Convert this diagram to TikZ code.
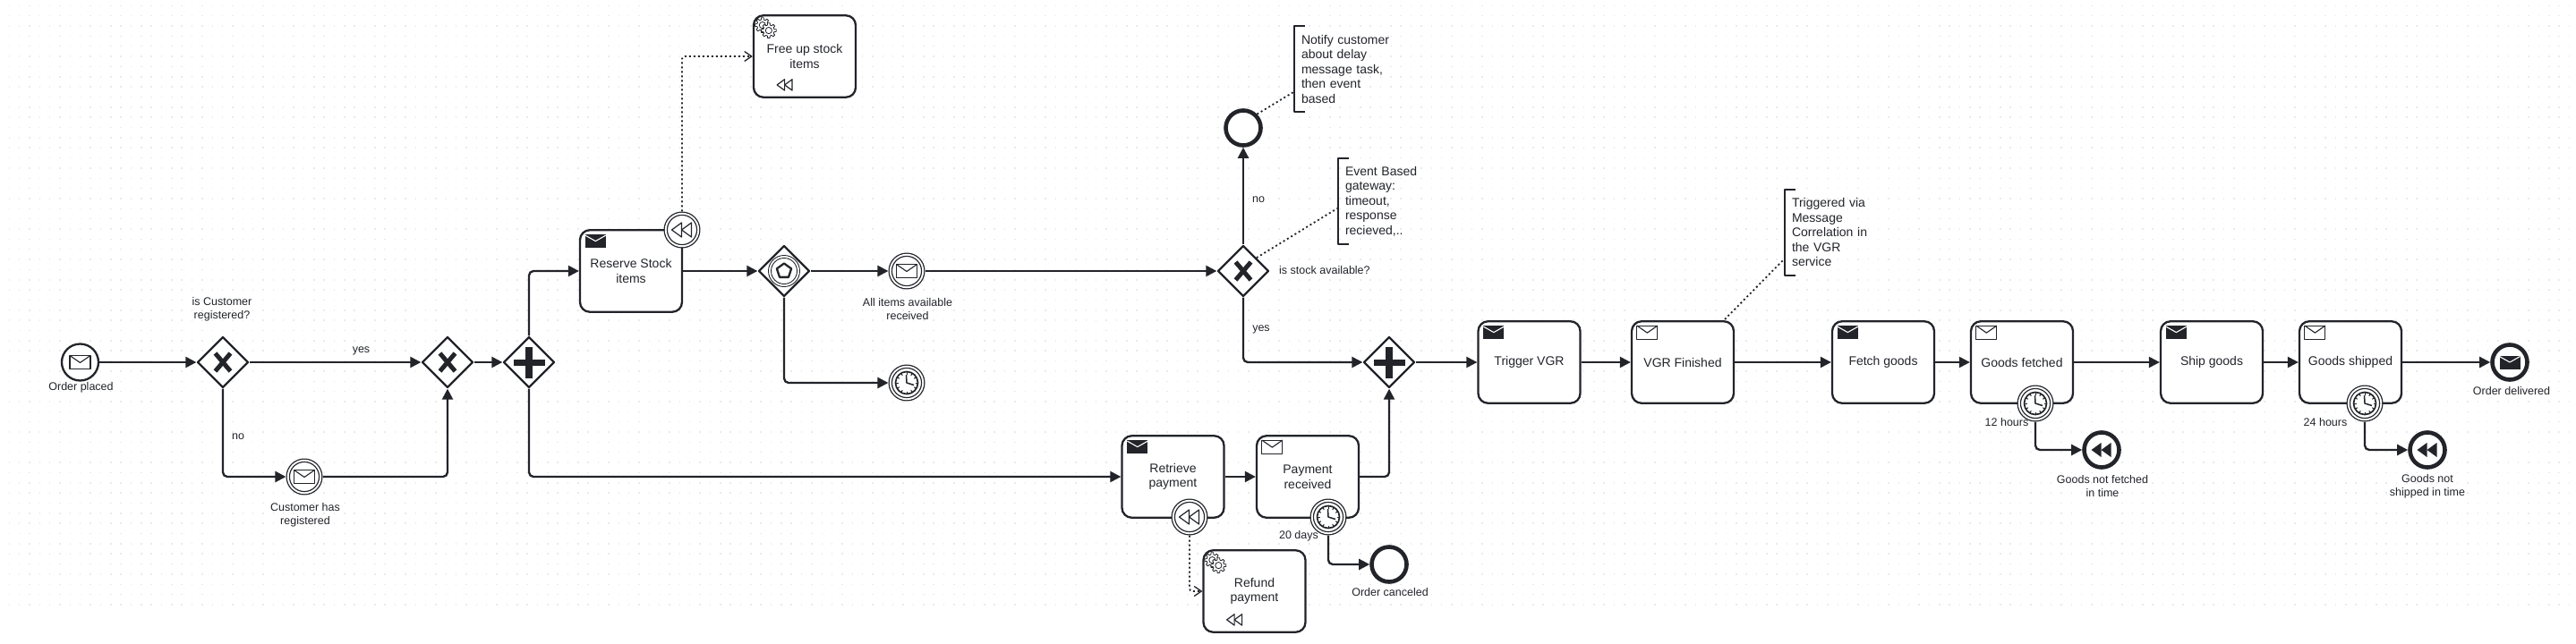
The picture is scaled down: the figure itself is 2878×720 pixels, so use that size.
\documentclass[tikz,border=0pt]{standalone}
\usepackage{fontspec}
\setmainfont{Liberation Sans}
\usepackage{xcolor}
\usepackage{tikz}
\usetikzlibrary{arrows.meta,calc,shapes.geometric}
\definecolor{bpmnline}{RGB}{34,36,42}
\definecolor{griddot}{RGB}{234,234,236}

\tikzset{
    taskbox/.style={draw=bpmnline,fill=white,rectangle,rounded corners=11pt,line width=2.3pt,minimum width=114pt,minimum height=91.5pt,inner sep=0pt,align=center,text=bpmnline,font=\fontsize{14}{16.5}\selectfont},
    gatebox/.style={draw=bpmnline,fill=white,diamond,aspect=1,line width=2.3pt,minimum width=57pt,minimum height=57pt,inner sep=0pt},
    startevent/.style={draw=bpmnline,fill=white,circle,line width=2.3pt,minimum size=41pt,inner sep=0pt},
    catchevent/.style={draw=bpmnline,fill=white,circle,line width=1.3pt,double,double distance=1.9pt,minimum size=36.5pt,outer sep=2.3pt,inner sep=0pt},
    endevent/.style={draw=bpmnline,fill=white,circle,line width=4.6pt,minimum size=39pt,inner sep=0pt},
    eventtext/.style={align=center,inner sep=0pt,text=bpmnline,font=\fontsize{12.5}{15.3}\selectfont},
    notetext/.style={anchor=west,rectangle,align=left,text width=100pt,inner xsep=8pt,inner ysep=0pt,minimum height=96pt,outer sep=0pt,text=bpmnline,font=\fontsize{14}{16.5}\selectfont},
    flowline/.style={draw=bpmnline,line width=2.3pt,rounded corners=5pt,-{Triangle[length=12pt,width=12pt]}},
    assocline/.style={draw=bpmnline,line width=1.8pt,dash pattern=on 2pt off 3pt},
    compline/.style={assocline,rounded corners=3pt,-{Straight Barb[length=8pt,width=11pt,line width=1.3pt]}},
    bracketline/.style={draw=bpmnline,line width=2pt},
    % icons
    mailopen/.pic={
        \draw[bpmnline,fill=white,line width=1.1pt] (-11.5,-7.5) rectangle (11.5,7.5);
        \draw[bpmnline,line width=1.1pt] (-11.5,-7.5) -- (0,0.5) -- (11.5,-7.5);
    },
    mailfull/.pic={
        \fill[bpmnline] (-11.5,-7.5) rectangle (11.5,7.5);
        \draw[white,line width=1.1pt] (-11.5,-6.5) -- (0,0) -- (11.5,-6.5);
    },
    clockicon/.pic={
        \draw[bpmnline,fill=white,line width=1.7pt] (0,0) circle (12.5);
        \foreach \a in {0,30,...,330} {
            \draw[bpmnline,line width=1pt] (\a:9.5) -- (\a:12);
        }
        \draw[bpmnline,line width=1.5pt] (-0.5,-9) -- (0,0) -- (8,2.5);
    },
    rewindopen/.pic={
        \draw[bpmnline,fill=white,line width=1.2pt] (-11.5,0) -- (-0.5,-8) -- (-0.5,8) -- cycle;
        \draw[bpmnline,fill=white,line width=1.2pt] (-0.5,0) -- (10.5,-8) -- (10.5,8) -- cycle;
    },
    rewindfull/.pic={
        \fill[bpmnline] (-11.5,0) -- (-0.5,-8) -- (-0.5,8) -- cycle;
        \fill[bpmnline] (-0.5,0) -- (10.5,-8) -- (10.5,8) -- cycle;
    },
    xmark/.pic={
        \draw[bpmnline,line width=5pt] (-8.5,-10) -- (8.5,10);
        \draw[bpmnline,line width=5pt] (8.5,-10) -- (-8.5,10);
    },
    plusmark/.pic={
        \fill[bpmnline] (-3.8,-17.5) rectangle (3.8,17.5);
        \fill[bpmnline] (-17.5,-3.5) rectangle (17.5,3.5);
    },
    pentamark/.pic={
        \draw[bpmnline,line width=0.9pt] (0,0) circle (17.5);
        \draw[bpmnline,line width=0.9pt] (0,0) circle (14.5);
        \draw[bpmnline,line width=2.3pt] (270:8.5) -- (342:8.5) -- (54:8.5) -- (126:8.5) -- (198:8.5) -- cycle;
    },
    cogwheel/.pic={
        \draw[bpmnline,fill=white,line width=0.8pt] (-14:6.2)
            \foreach \a in {0,45,...,315} {
                -- (\a-14:6.2) -- (\a-9:8.4) -- (\a+9:8.4) -- (\a+14:6.2)
            } -- cycle;
        \draw[bpmnline,line width=0.8pt] (0,0) circle (3.6);
    },
}

\begin{document}
\begin{tikzpicture}[x=1pt,y=-1pt,line join=round]
    \useasboundingbox (0,0) rectangle (2878,720);
    % dotted canvas
    \fill[white] (0,0) rectangle (2878,720);
    \foreach \row in {0,...,59} {
        \draw[griddot,line width=1.5pt,dash pattern=on 1.5pt off 9.85pt] (9.5,6.3+\row*11.35) -- (2878,6.3+\row*11.35);
    }

    % events
    \node[startevent] (orderplaced) at (89.5,405) {};
    \node[catchevent] (custregistered) at (340,533) {};
    \node[catchevent] (itemsreceived) at (1013,303) {};
    \node[catchevent] (stocktimer) at (1013,428) {};
    \node[endevent] (notifyend) at (1389,143) {};
    \node[endevent] (ordercanceled) at (1552,631) {};
    \node[endevent] (orderdelivered) at (2804,405) {};
    \node[endevent] (notfetched) at (2348,503) {};
    \node[endevent] (notshipped) at (2712,503) {};

    % gateways
    \node[gatebox] (gwcustomer) at (249,405) {};
    \node[gatebox] (gwmerge) at (500,405) {};
    \node[gatebox] (gwsplit) at (591,405) {};
    \node[gatebox] (gwevent) at (876,303) {};
    \node[gatebox] (gwstock) at (1389,303) {};
    \node[gatebox] (gwjoin) at (1552,405) {};

    % tasks
    \node[taskbox] (reserve) at (705,303) {Reserve Stock\\items};
    \node[taskbox] (freeup) at (899,63) {Free up stock\\items};
    \node[taskbox] (retrieve) at (1310.5,533) {Retrieve\\payment};
    \node[taskbox] (payment) at (1461,533) {Payment\\received};
    \node[taskbox] (refund) at (1401.5,661) {Refund\\payment};
    \foreach \name/\x/\lab in {trigger/1708.5/Trigger VGR,vgrdone/1880/VGR Finished,fetch/2104/Fetch goods,fetched/2259/Goods fetched,ship/2471/Ship goods,shipped/2626/Goods shipped} {
        \node[taskbox] (\name) at (\x,405) {\lab};
    }

    % boundary events
    \node[catchevent] (reservecomp) at (762,257) {};
    \node[catchevent] (retrievecomp) at (1329,578) {};
    \node[catchevent] (paymenttimer) at (1484,578) {};
    \node[catchevent] (fetchedtimer) at (2274,451) {};
    \node[catchevent] (shippedtimer) at (2642,451) {};

    % icons
    \pic at (orderplaced) {mailopen};
    \pic at (custregistered) {mailopen};
    \pic at (itemsreceived) {mailopen};
    \pic at (orderdelivered) {mailfull};
    \pic at (notfetched) {rewindfull};
    \pic at (notshipped) {rewindfull};
    \pic at (reservecomp) {rewindopen};
    \pic at (retrievecomp) {rewindopen};
    \foreach \name in {stocktimer,paymenttimer,fetchedtimer,shippedtimer} {
        \pic at (\name) {clockicon};
    }
    \foreach \name in {gwcustomer,gwmerge,gwstock} {
        \pic at (\name) {xmark};
    }
    \foreach \name in {gwsplit,gwjoin} {
        \pic at (\name) {plusmark};
    }
    \pic at (gwevent) {pentamark};
    \foreach \name in {reserve,retrieve,trigger,fetch,ship} {
        \pic at ($(\name.north west)+(18.5,13.5)$) {mailfull};
    }
    \foreach \name in {payment,vgrdone,fetched,shipped} {
        \pic at ($(\name.north west)+(18.5,13.5)$) {mailopen};
    }
    \foreach \name in {freeup,refund} {
        \pic at ($(\name.north west)+(11,12)$) {cogwheel};
        \pic at ($(\name.north west)+(18,18)$) {cogwheel};
        \pic[scale=0.77] at ($(\name.south)+(-22,-15)$) {rewindopen};
    }

    % event labels
    \node[eventtext] (orderplacedtext) at (90.5,433) {Order placed};
    \node[eventtext] (gwcustomertext) at (248,345.5) {is Customer\\registered?};
    \node[eventtext] (custregisteredtext) at (341,576) {Customer has\\registered};
    \node[eventtext] (yestext) at (403.5,392) {yes};
    \node[eventtext] (notext) at (266,488) {no};
    \node[eventtext] (itemsreceivedtext) at (1014,345.5) {All items available\\received};
    \node[eventtext] (stocknotext) at (1406,223) {no};
    \node[eventtext] (stockyestext) at (1409,368) {yes};
    \node[eventtext,anchor=west] (gwstocktext) at (1429,302) {is stock available?};
    \node[eventtext] (daystext) at (1451,599) {20 days};
    \node[eventtext] (canceledtext) at (1553,662) {Order canceled};
    \node[eventtext] (fetchedhours) at (2242,472) {12 hours};
    \node[eventtext] (shippedhours) at (2598,472) {24 hours};
    \node[eventtext] (notfetchedtext) at (2349,543.5) {Goods not fetched\\in time};
    \node[eventtext] (notshippedtext) at (2712,543.5) {Goods not\\shipped in time};
    \node[eventtext] (deliveredtext) at (2806,437) {Order delivered};

    % annotations
    \node[notetext] (notenotify) at (1446,77) {Notify customer\\about delay\\message task,\\then event\\based};
    \node[notetext] (notegateway) at (1495,225) {Event Based\\gateway:\\timeout,\\response\\recieved,..};
    \node[notetext] (notevgr) at (1994,259.5) {Triggered via\\Message\\Correlation in\\the VGR\\service};
    \foreach \name in {notenotify,notegateway,notevgr} {
        \draw[bracketline] ($(\name.north west)+(12,0)$) -- (\name.north west) -- (\name.south west) -- ($(\name.south west)+(12,0)$);
    }
    \coordinate (notifyfoot) at (1445,103);
    \coordinate (gatewayfoot) at (1494,233);
    \coordinate (vgrfoot) at (1993,290);
    \coordinate (vgrtop) at (1927,357);
    \draw[assocline] (notifyend.north east) -- (notifyfoot);
    \draw[assocline] (gwstock.north east) -- (gatewayfoot);
    \draw[assocline] (vgrtop) -- (vgrfoot);

    % sequence flows
    \draw[flowline] (orderplaced) -- (gwcustomer);
    \draw[flowline] (gwcustomer) -- (gwmerge);
    \draw[flowline] (gwmerge) -- (gwsplit);
    \draw[flowline] (gwcustomer.south) |- (custregistered.west);
    \draw[flowline] (custregistered.east) -| (gwmerge.south);
    \draw[flowline] (gwsplit.north) |- (reserve.west);
    \draw[flowline] (gwsplit.south) |- (retrieve.west);
    \draw[flowline] (reserve.east) -- (gwevent.west);
    \draw[flowline] (gwevent.east) -- (itemsreceived.west);
    \draw[flowline] (gwevent.south) |- (stocktimer.west);
    \draw[flowline] (itemsreceived.east) -- (gwstock.west);
    \draw[flowline] (gwstock.north) -- (notifyend.south);
    \draw[flowline] (gwstock.south) |- (gwjoin.west);
    \draw[flowline] (retrieve.east) -- (payment.west);
    \draw[flowline] (payment.east) -| (gwjoin.south);
    \draw[flowline] (paymenttimer.south) |- (ordercanceled.west);
    \draw[flowline] (gwjoin.east) -- (trigger.west);
    \draw[flowline] (trigger.east) -- (vgrdone.west);
    \draw[flowline] (vgrdone.east) -- (fetch.west);
    \draw[flowline] (fetch.east) -- (fetched.west);
    \draw[flowline] (fetched.east) -- (ship.west);
    \draw[flowline] (ship.east) -- (shipped.west);
    \draw[flowline] (shipped.east) -- (orderdelivered.west);
    \draw[flowline] (fetchedtimer.south) |- (notfetched.west);
    \draw[flowline] (shippedtimer.south) |- (notshipped.west);

    % compensation links
    \draw[compline] (reservecomp.north) |- (freeup.west);
    \draw[compline] (retrievecomp.south) |- (refund.west);
\end{tikzpicture}
\end{document}
